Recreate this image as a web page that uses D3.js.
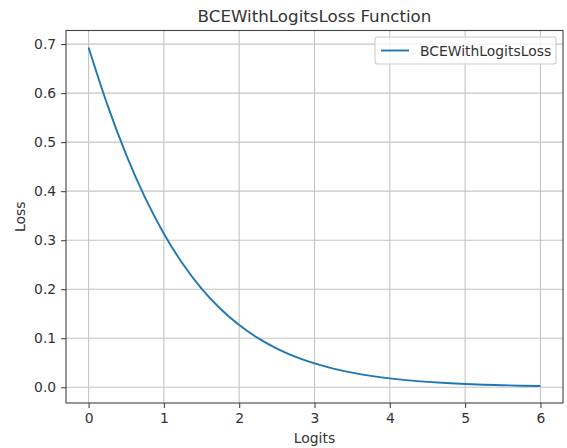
<!DOCTYPE html>
<html><head><meta charset="utf-8">
<script src="https://cdn.jsdelivr.net/npm/d3@7"></script>
<style>
body{margin:0;background:#fff;}
text{font-family:"DejaVu Sans",sans-serif;fill:#333;}
</style></head>
<body><svg id="c" width="567" height="448"></svg>
<script>
const logits = [0,0.25,0.5,0.75,1,1.25,1.5,1.75,2,2.25,2.5,2.75,3,3.25,3.5,3.75,4,4.25,4.5,4.75,5,5.25,5.5,5.75,6];
const loss = [0.6931,0.5759,0.4741,0.3869,0.3133,0.2519,0.2014,0.1602,0.1269,0.1002,0.0789,0.0620,0.0486,0.0381,0.0298,0.0232,0.0181,0.0141,0.0110,0.0086,0.0067,0.0052,0.0041,0.0032,0.0025];
const xTicks = [0,1,2,3,4,5,6];
const yTicks = [0.0,0.1,0.2,0.3,0.4,0.5,0.6,0.7];
const title = "BCEWithLogitsLoss Function";
const xLabel = "Logits", yLabel = "Loss", seriesName = "BCEWithLogitsLoss";

const L=66,R=563,T=30.5,B=403;
const FS=13.9, TFS=16.7;
const svg=d3.select("#c");
const x=d3.scaleLinear().domain([-0.3,6.3]).range([L,R]);
const y=d3.scaleLinear().domain([-0.0321,0.7277]).range([B,T]);

// grid
const g=svg.append("g");
g.selectAll(".gx").data(xTicks).join("line").attr("x1",d=>x(d)).attr("x2",d=>x(d)).attr("y1",T).attr("y2",B).attr("stroke","#c4c4c4").attr("stroke-width",1.1);
g.selectAll(".gy").data(yTicks).join("line").attr("y1",d=>y(d)).attr("y2",d=>y(d)).attr("x1",L).attr("x2",R).attr("stroke","#c4c4c4").attr("stroke-width",1.1);

// line
svg.append("path").datum(logits.map((v,i)=>[v,loss[i]]))
 .attr("fill","none").attr("stroke","#1f77b4").attr("stroke-width",1.9)
 .attr("d",d3.line().x(d=>x(d[0])).y(d=>y(d[1])).curve(d3.curveMonotoneX));

// axes
const xa=svg.append("g").attr("transform",`translate(0,${B})`).call(d3.axisBottom(x).tickValues(xTicks).tickFormat(d3.format("d")).tickSize(4.9).tickPadding(4.9));
const ya=svg.append("g").attr("transform",`translate(${L},0)`).call(d3.axisLeft(y).tickValues(yTicks).tickFormat(d3.format(".1f")).tickSize(4.9).tickPadding(4.9));
[xa,ya].forEach(a=>{a.select(".domain").remove();a.selectAll("text").style("font-family","DejaVu Sans").style("font-size",FS+"px").attr("fill","#333");a.selectAll("line").attr("stroke","#444").attr("stroke-width",1.1);});

svg.append("rect").attr("x",L).attr("y",T).attr("width",R-L).attr("height",B-T).attr("fill","none").attr("stroke","#444").attr("stroke-width",1.1);

svg.append("text").attr("x",(L+R)/2).attr("y",22).attr("text-anchor","middle").style("font-size",TFS+"px").text(title);
svg.append("text").attr("x",(L+R)/2).attr("y",443).attr("text-anchor","middle").style("font-size",FS+"px").text(xLabel);
svg.append("text").attr("transform",`translate(25,${(T+B)/2}) rotate(-90)`).attr("text-anchor","middle").style("font-size",FS+"px").text(yLabel);

// legend
const lg=svg.append("g");
lg.append("rect").attr("x",375).attr("y",37).attr("width",181).attr("height",27).attr("rx",2.5).attr("fill","#fff").attr("fill-opacity",0.8).attr("stroke","#cccccc").attr("stroke-width",1.1);
lg.append("line").attr("x1",381).attr("x2",409).attr("y1",50.5).attr("y2",50.5).attr("stroke","#1f77b4").attr("stroke-width",1.9);
lg.append("text").attr("x",420).attr("y",55.5).style("font-size",FS+"px").text(seriesName);
</script></body></html>
